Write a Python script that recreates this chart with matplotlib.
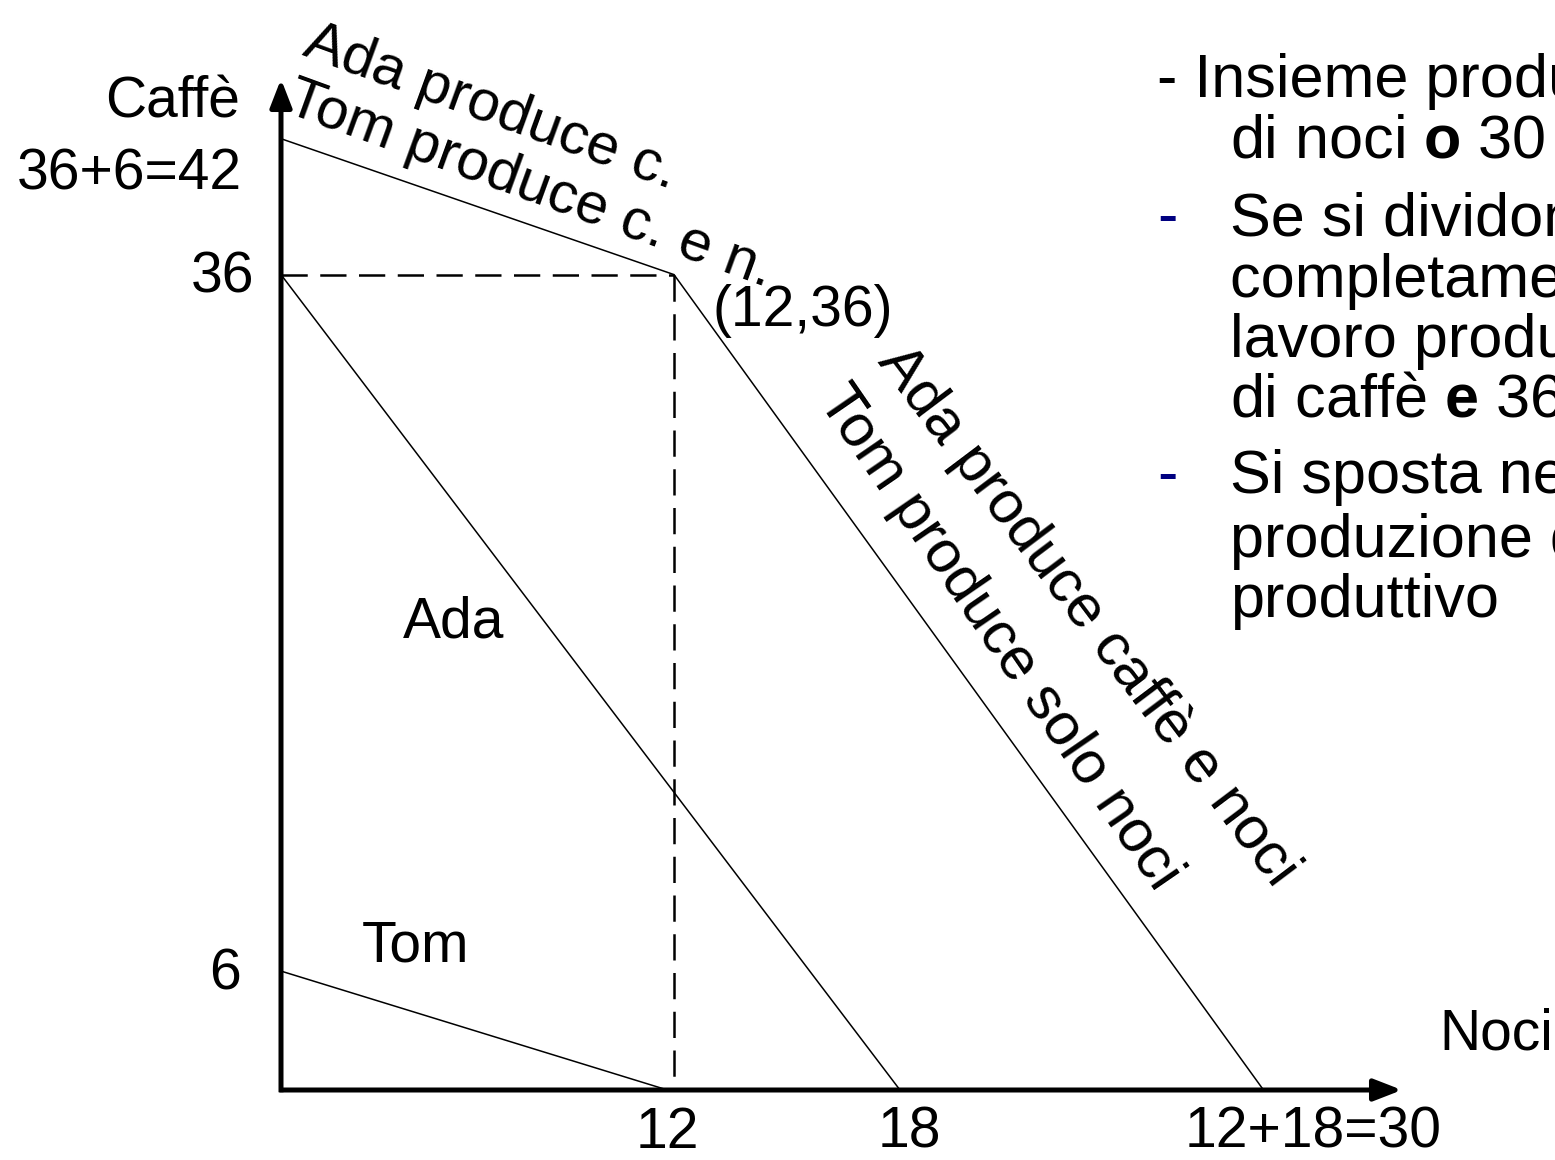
# -*- coding: utf-8 -*-
import matplotlib
matplotlib.use('Agg')
import matplotlib.pyplot as plt

plt.rcParams['font.family'] = ['Liberation Sans', 'DejaVu Sans']
plt.rcParams['mathtext.fontset'] = 'custom'
plt.rcParams['mathtext.rm'] = 'Liberation Sans'
plt.rcParams['mathtext.bf'] = 'Liberation Sans:bold'

# frontiere di produzione (noci sull'asse x, caffe' sull'asse y)
tom_noci = [0, 11.8]
tom_caffe = [5.25, 0]
ada_noci = [0, 18.9]
ada_caffe = [36, 0]
insieme_noci = [0, 12, 30]
insieme_caffe = [42, 36, 0]
punto = (12, 36)

W, H = 1555, 1160
X0, Y0 = 281, 1090          # origine in pixel
XS, YS = 32.75, 22.65       # pixel per unita'


def P(x, y):
    # pixel (dall'alto a sinistra) -> coordinate figura
    return x / W, 1 - y / H


fig = plt.figure(figsize=(W / 100, H / 100), dpi=100)
ax = fig.add_axes([0, 0, 1, 1])
ax.set_xlim(-X0 / XS, (W - X0) / XS)
ax.set_ylim(-(H - Y0) / YS, Y0 / YS)
ax.axis('off')

# assi con freccia
arr = dict(arrowstyle='-|>,head_length=0.85,head_width=0.33', lw=3.6,
           color='black', shrinkA=0, shrinkB=0, mutation_scale=20,
           capstyle='butt')
ax.annotate('', xy=(0, (Y0 - 79) / YS), xytext=(0, -0.1), arrowprops=arr)
ax.annotate('', xy=((1402 - X0) / XS, 0), xytext=(-0.05, 0), arrowprops=arr)

# linee
ax.plot(tom_noci, tom_caffe, color='black', lw=1.1)
ax.plot(ada_noci, ada_caffe, color='black', lw=1.1)
ax.plot(insieme_noci, insieme_caffe, color='black', lw=1.1)
ax.plot([0, punto[0]], [punto[1], punto[1]], color='black', lw=1.8,
        linestyle=(0, (10.5, 5)))
ax.plot([punto[0], punto[0]], [punto[1], 0], color='black', lw=1.8,
        linestyle=(0, (10.5, 5)))

tk = dict(fontsize=41, va='baseline', transform=fig.transFigure)
fig.text(*P(240, 117), 'Caffè', ha='right', **tk)
fig.text(*P(242, 190), '36+6=42', ha='right', **tk)
fig.text(*P(254, 293), '36', ha='right', **tk)
fig.text(*P(241, 990), '6', ha='right', **tk)
fig.text(*P(667, 1148), '12', ha='center', **tk)
fig.text(*P(909, 1148), '18', ha='center', **tk)
fig.text(*P(1313, 1148), '12+18=30', ha='center', **tk)
fig.text(*P(1439, 1050), 'Noci', ha='left', **tk)
fig.text(*P(362, 962), 'Tom', ha='left', **tk)
fig.text(*P(403, 638), 'Ada', ha='left', **tk)
fig.text(*P(712, 326), '(12,36)', ha='left', **tk)

rt = dict(ha='left', va='baseline', rotation_mode='anchor',
          transform=fig.transFigure)
fig.text(*P(301, 55), 'Ada produce c.', rotation=-20, fontsize=42, **rt)
fig.text(*P(284, 112), 'Tom produce c. e n.', rotation=-20, fontsize=42, **rt)
fig.text(*P(877, 362), 'Ada produce caffè e noci', rotation=-53, fontsize=43, **rt)
fig.text(*P(817, 400), 'Tom produce solo noci', rotation=-55.5, fontsize=43, **rt)

# testo a destra (tagliato dal bordo)
bt = dict(fontsize=44, ha='left', va='baseline', transform=fig.transFigure)
righe = [
    (1157, 97, '- Insieme producono 30 kg'),
    (1230, 158, r'di noci $\mathbf{o}$ 30 kg di caffè'),
    (1230, 235, 'Se si dividono il lavoro'),
    (1230, 297, 'completamente il'),
    (1230, 357, 'lavoro producono 36 kg'),
    (1230, 417, r'di caffè $\mathbf{e}$ 36 kg di noci'),
    (1230, 493, 'Si sposta nella frontiera'),
    (1230, 557, 'produzione del sistema'),
    (1230, 617, 'produttivo'),
]
for x, y, s in righe:
    fig.text(*P(x, y), s, **bt)
for y in [235, 493]:
    fig.text(*P(1157, y), '-', color='#000080', **bt)

fig.savefig('out.png', dpi=100)
